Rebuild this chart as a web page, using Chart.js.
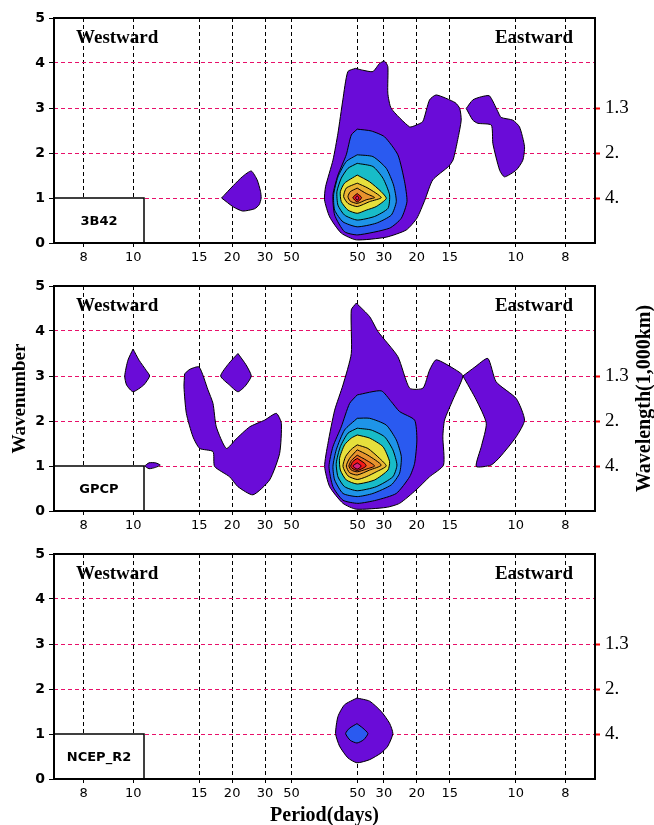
<!DOCTYPE html>
<html>
<head>
<meta charset="utf-8">
<script src="https://cdn.jsdelivr.net/npm/chart.js@4.4.1/dist/chart.umd.min.js"></script>
<style>
  html, body { margin: 0; padding: 0; background: #fff; }
  #wrap { position: relative; width: 654px; height: 825px; }
  canvas { position: absolute; left: 0; }
</style>
</head>
<body>
<div id="wrap">
  <canvas id="p1" width="654" height="268" style="top:0px"></canvas>
  <canvas id="p2" width="654" height="268" style="top:268px"></canvas>
  <canvas id="p3" width="654" height="289" style="top:536px"></canvas>
</div>
<script>
// x axis = frequency index of a 150 day record, westward negative (zero bin dropped)
const RECORD_DAYS = 150;
const periods = [8, 10, 15, 20, 30, 50];
const wavelengthTicks = [1, 2, 3];
const wavelengthLabels = ["4.", "2.", "1.3"];

// contour level colours, outermost first
const levelColors = ["#6a0cd8", "#2a5af0", "#1e94e8", "#18bcc8", "#e6e03c",
                     "#eab432", "#e8922e", "#ee6a22", "#f41a1a", "#d8207a"];

// contour outlines as [frequency index, wavenumber]
// --- 3B42
const b42West = [[-7.8,1.0],[-6.9,1.28],[-6.2,1.48],[-5.55,1.6],[-5.1,1.4],[-4.85,1.15],[-4.8,1.0],[-4.95,0.85],[-5.3,0.76],[-6.2,0.71],[-6.9,0.8]];
const b42Main = [[2.35,3.88],[1.77,3.81],[1.39,3.18],[1.02,2.44],[0.64,1.84],[0.08,1.25],[0.0,0.96],[0.39,0.58],[1.27,0.22],[2.41,0.07],[4.68,0.13],[6.2,0.29],[7.0,0.55],[7.6,0.95],[8.2,1.4],[9.4,1.7],[9.75,1.85],[10.1,2.3],[10.36,2.73],[10.25,2.99],[9.9,3.12],[8.47,3.29],[7.96,3.18],[7.45,2.7],[6.95,2.62],[6.45,2.58],[5.06,2.99],[4.8,3.33],[4.8,3.92],[4.55,4.04],[4.17,3.99],[3.67,3.81],[2.9,3.84]];
const b42East = [[10.74,2.99],[11.24,3.18],[11.88,3.25],[12.5,3.27],[13.14,2.92],[13.39,2.79],[14.27,2.73],[14.78,2.58],[15.16,2.14],[15.03,1.84],[14.53,1.62],[13.64,1.47],[13.27,1.62],[12.76,2.21],[12.64,2.62],[11.62,2.66],[11.24,2.73]];
const b42Blue = [[2.48,2.53],[3.54,2.49],[4.55,2.36],[5.56,1.96],[6.07,1.36],[6.25,0.92],[5.82,0.55],[4.93,0.33],[2.53,0.18],[1.52,0.25],[0.77,0.62],[0.64,1.07],[1.02,1.51],[1.65,1.96],[2.03,2.4]];
const b42Sky = [[2.48,1.96],[3.67,1.92],[4.68,1.66],[5.23,1.29],[5.44,0.92],[5.06,0.62],[3.92,0.44],[2.48,0.36],[1.4,0.47],[0.77,0.73],[0.69,1.07],[1.02,1.47],[1.65,1.81]];
const b42Cyan = [[2.48,1.77],[3.67,1.7],[4.43,1.44],[4.93,1.07],[4.81,0.77],[3.8,0.59],[2.48,0.51],[1.52,0.62],[1.02,0.84],[0.94,1.14],[1.27,1.44],[1.78,1.66]];
const b42Yellow = [[2.48,1.51],[3.42,1.36],[4.3,1.14],[4.68,0.99],[3.92,0.81],[3.16,0.73],[2.48,0.66],[1.78,0.73],[1.27,0.92],[1.2,1.14],[1.52,1.33]];
const b42Gold = [[2.48,1.33],[3.29,1.22],[4.3,1.01],[3.42,0.92],[2.48,0.81],[1.78,0.88],[1.45,1.03],[1.65,1.22]];
const b42Orange = [[2.48,1.22],[3.16,1.1],[3.8,1.01],[3.16,0.96],[2.48,0.88],[1.95,0.93],[1.78,1.03],[1.95,1.14]];
const b42Red = [[2.48,1.1],[2.81,1.01],[2.48,0.91],[2.15,1.01]];
const b42Core = [[2.48,1.05],[2.6,1.0],[2.48,0.95],[2.36,1.0]];

// --- GPCP
const gpcpWestA = [[-14.51,3.6],[-14.05,3.35],[-13.5,3.12],[-13.25,3.0],[-13.7,2.8],[-14.51,2.65],[-15.0,2.8],[-15.14,3.0],[-14.9,3.35]];
const gpcpWestB = [[-6.56,3.5],[-5.95,3.25],[-5.55,3.0],[-6.0,2.78],[-6.56,2.65],[-7.2,2.8],[-7.87,3.0],[-7.25,3.28]];
const gpcpWestC = [[-13.63,1.0],[-13.3,1.07],[-12.8,1.07],[-12.45,1.02],[-12.8,0.97],[-13.3,0.94]];
const gpcpWestD = [[-10.6,3.05],[-10.2,3.15],[-9.5,3.2],[-8.83,2.69],[-8.45,2.39],[-8.2,1.87],[-7.44,1.39],[-6.7,1.6],[-5.67,1.87],[-4.54,2.02],[-3.65,2.17],[-3.27,1.95],[-3.4,1.28],[-4.16,0.69],[-5.42,0.36],[-6.56,0.54],[-7.19,0.76],[-8.33,0.99],[-8.45,1.32],[-9.46,1.39],[-9.97,1.65],[-10.47,2.17],[-10.65,2.76]];
const gpcpMain = [[2.41,4.62],[2.03,4.47],[2.03,3.5],[1.4,2.8],[0.77,2.24],[0.26,1.5],[0.01,0.99],[0.39,0.54],[1.4,0.17],[2.41,0.04],[4.68,0.08],[5.69,0.17],[6.95,0.47],[7.96,0.76],[9.02,1.02],[8.97,1.65],[9.1,2.02],[9.73,2.47],[10.49,3.0],[9.98,3.13],[8.47,3.36],[7.96,3.13],[7.46,2.73],[6.45,2.73],[5.56,3.43],[4.05,3.99],[3.42,4.32]];
const gpcpEast = [[10.49,3.0],[11.4,3.2],[12.38,3.39],[13.01,2.87],[14.53,2.5],[15.16,2.02],[14.53,1.65],[13.3,1.2],[12.62,1.02],[11.5,0.99],[11.9,1.45],[12.26,1.95],[11.5,2.47]];
const gpcpBlue = [[2.48,2.58],[4.3,2.67],[5.06,2.43],[5.69,2.21],[6.83,2.02],[7.0,1.58],[6.83,1.06],[6.45,0.76],[5.44,0.39],[3.92,0.24],[2.53,0.17],[1.4,0.24],[0.64,0.54],[0.34,0.99],[0.64,1.43],[1.27,1.87],[1.9,2.39]];
const gpcpSky = [[2.48,2.06],[3.42,2.06],[4.68,1.91],[5.44,1.58],[5.82,1.21],[5.69,0.84],[5.06,0.58],[3.67,0.39],[2.48,0.32],[1.4,0.39],[0.77,0.69],[0.64,0.99],[0.89,1.36],[1.52,1.8]];
const gpcpCyan = [[2.48,1.84],[3.54,1.8],[4.55,1.65],[5.18,1.36],[5.49,1.02],[5.18,0.76],[3.92,0.54],[2.48,0.45],[1.52,0.54],[1.02,0.76],[0.89,1.06],[1.2,1.43],[1.78,1.73]];
const gpcpYellow = [[2.48,1.69],[3.42,1.62],[4.43,1.43],[4.93,1.1],[4.81,0.91],[3.8,0.69],[2.48,0.6],[1.65,0.69],[1.2,0.91],[1.14,1.17],[1.52,1.47],[2.03,1.62]];
const gpcpGold = [[2.48,1.47],[3.29,1.39],[4.17,1.17],[4.68,1.0],[3.92,0.87],[3.16,0.76],[2.48,0.7],[1.78,0.78],[1.4,0.99],[1.6,1.21],[2.03,1.37]];
const gpcpOrange = [[2.48,1.36],[3.29,1.24],[4.3,1.02],[3.42,0.91],[2.48,0.8],[1.9,0.85],[1.65,1.0],[1.9,1.17]];
const gpcpDeep = [[2.48,1.24],[3.16,1.13],[3.8,1.0],[3.16,0.93],[2.48,0.87],[2.03,0.91],[1.85,1.0],[2.03,1.12]];
const gpcpRed = [[2.48,1.17],[3.04,1.06],[3.16,1.0],[2.91,0.95],[2.48,0.9],[2.08,0.95],[1.98,1.0],[2.15,1.1]];
const gpcpCore = [[2.48,1.07],[2.79,1.0],[2.48,0.93],[2.15,1.0]];

// --- NCEP_R2
const ncepMain = [[2.46,1.8],[3.42,1.73],[4.3,1.5],[4.93,1.24],[5.18,1.01],[4.8,0.73],[4.3,0.58],[3.42,0.43],[2.46,0.36],[1.77,0.47],[1.14,0.73],[0.84,1.01],[1.02,1.39],[1.52,1.65]];
const ncepBlue = [[2.46,1.23],[2.91,1.13],[3.29,1.01],[2.96,0.87],[2.46,0.8],[1.95,0.86],[1.6,1.01],[1.9,1.13]];

// [level, outline]
const b42Shapes = [[0, b42West], [0, b42Main], [0, b42East], [1, b42Blue], [2, b42Sky], [3, b42Cyan],
                   [4, b42Yellow], [5, b42Gold], [6, b42Orange], [8, b42Red], [9, b42Core]];
const gpcpShapes = [[0, gpcpWestA], [0, gpcpWestB], [0, gpcpWestC], [0, gpcpWestD], [0, gpcpMain], [0, gpcpEast],
                    [1, gpcpBlue], [2, gpcpSky], [3, gpcpCyan], [4, gpcpYellow], [5, gpcpGold],
                    [6, gpcpOrange], [7, gpcpDeep], [8, gpcpRed], [9, gpcpCore]];
const ncepShapes = [[0, ncepMain], [1, ncepBlue]];

// period ticks: westward side then eastward side
const westTicks = periods.map(p => -(RECORD_DAYS / p - 0.5));
const eastTicks = periods.slice().reverse().map(p => RECORD_DAYS / p - 0.5);
const tickValues = westTicks.concat(eastTicks);
const tickLabels = periods.map(String).concat(periods.slice().reverse().map(String));

const MAGENTA = "#e8106a";
const SERIF = '"Liberation Serif"';

// frame, name box, direction labels, axis titles
const panelDecor = {
  id: "panelDecor",
  afterDraw(chart, args, opts) {
    const { ctx, chartArea: a, scales: { y } } = chart;
    ctx.save();
    ctx.fillStyle = "#000";
    ctx.font = "bold 19px " + SERIF;
    ctx.textBaseline = "alphabetic";
    ctx.textAlign = "left";
    ctx.fillText("Westward", a.left + 22, a.top + 25);
    ctx.textAlign = "right";
    ctx.fillText("Eastward", a.right - 22, a.top + 25);

    // name box in lower left corner
    const by = y.getPixelForValue(1);
    const bw = 90;
    ctx.fillStyle = "#fff";
    ctx.fillRect(a.left, by, bw, a.bottom - by);
    ctx.strokeStyle = "#000";
    ctx.lineWidth = 1.5;
    ctx.strokeRect(a.left, by, bw, a.bottom - by);
    ctx.fillStyle = "#000";
    ctx.font = 'bold 13px "DejaVu Sans"';
    ctx.textAlign = "center";
    ctx.textBaseline = "middle";
    ctx.fillText(opts.name, a.left + bw / 2, (by + a.bottom) / 2 + 1);

    // frame
    ctx.lineWidth = 2;
    ctx.strokeRect(a.left, a.top, a.right - a.left, a.bottom - a.top);

    if (opts.sideTitles) {
      const cy = (a.top + a.bottom) / 2;
      ctx.save();
      ctx.font = "bold 19px " + SERIF;
      ctx.translate(20, cy);
      ctx.rotate(-Math.PI / 2);
      ctx.fillText("Wavenumber", 0, 0);
      ctx.restore();
      ctx.save();
      ctx.font = "bold 20px " + SERIF;
      ctx.translate(645, cy);
      ctx.rotate(-Math.PI / 2);
      ctx.fillText("Wavelength(1,000km)", 0, 0);
      ctx.restore();
    }
    if (opts.bottomTitle) {
      ctx.font = "bold 20px " + SERIF;
      ctx.fillText("Period(days)", (a.left + a.right) / 2, a.bottom + 37);
    }
    ctx.restore();
  }
};

function makePanel(id, shapes, name, xHeight, extra) {
  const datasets = shapes.map(([lvl, pts]) => ({
    data: pts.concat([pts[0]]).map(([x, y]) => ({ x, y })),
    showLine: true,
    fill: "shape",
    backgroundColor: levelColors[lvl],
    borderColor: "#000",
    borderWidth: 1,
    pointRadius: 0,
    tension: 0.2,
    order: 100 - lvl
  }));

  new Chart(document.getElementById(id), {
    type: "scatter",
    data: { datasets },
    options: {
      responsive: false,
      animation: false,
      layout: { padding: { top: 18, left: 0, right: 0, bottom: 0 } },
      plugins: {
        legend: { display: false },
        tooltip: { enabled: false },
        panelDecor: Object.assign({ name }, extra)
      },
      scales: {
        x: {
          type: "linear",
          min: -20.5,
          max: 20.5,
          z: 1,
          afterBuildTicks: s => { s.ticks = tickValues.map(v => ({ value: v })); },
          afterFit: s => { s.height = xHeight; },
          ticks: {
            autoSkip: false,
            maxRotation: 0,
            padding: 3,
            color: "#000",
            font: { family: "DejaVu Sans", size: 13 },
            callback: (v, i) => tickLabels[i]
          },
          grid: { color: "#000", lineWidth: 1, tickLength: 4, tickColor: "#000" },
          border: { display: false, dash: [4, 3] }
        },
        y: {
          min: 0,
          max: 5,
          z: 1,
          afterFit: s => { s.width = 54; },
          ticks: {
            stepSize: 1,
            padding: 4,
            color: "#000",
            font: { family: "DejaVu Sans", size: 14, weight: "bold" }
          },
          grid: {
            color: c => (c.tick && c.tick.value > 0 && c.tick.value < 5) ? MAGENTA : "rgba(0,0,0,0)",
            lineWidth: 1,
            tickLength: 5,
            tickColor: "#000"
          },
          border: { display: false, dash: [4, 3] }
        },
        y2: {
          position: "right",
          min: 0,
          max: 5,
          afterBuildTicks: s => { s.ticks = wavelengthTicks.map(v => ({ value: v })); },
          afterFit: s => { s.width = 59; },
          ticks: {
            padding: 5,
            color: "#000",
            font: { family: "Liberation Serif", size: 19 },
            callback: (v, i) => wavelengthLabels[i]
          },
          grid: { drawOnChartArea: false, tickColor: "#ff0000", tickLength: 5, tickWidth: 2 },
          border: { display: false }
        }
      }
    },
    plugins: [panelDecor]
  });
}

makePanel("p1", b42Shapes, "3B42", 25, {});
makePanel("p2", gpcpShapes, "GPCP", 25, { sideTitles: true });
makePanel("p3", ncepShapes, "NCEP_R2", 46, { bottomTitle: true });
</script>
</body>
</html>
